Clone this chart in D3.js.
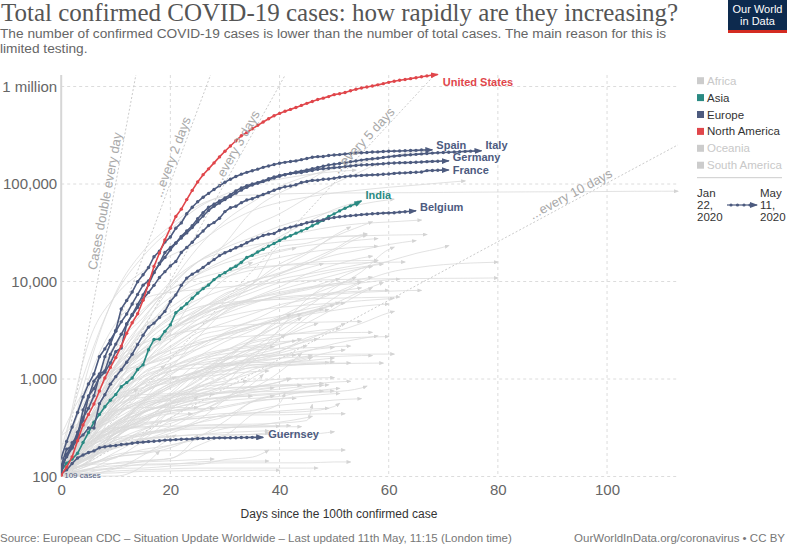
<!DOCTYPE html>
<html><head><meta charset="utf-8">
<script src="https://cdn.jsdelivr.net/npm/d3@7"></script>
<style>
body{margin:0;background:#fff}
svg{display:block;font-family:"Liberation Sans",Arial,sans-serif}
</style>
</head><body>
<svg id="chart" width="787" height="546"></svg>
<script>
// ---------------- DATA ----------------
const xTicks = [0, 20, 40, 60, 80, 100];
const yTicks = [100, 1000, 10000, 100000, 1000000];
const doublingDays = [1, 2, 3, 5, 10];
const doublingLabels = ["Cases double every day", "...every 2 days", "...every 3 days", "...every 5 days", "...every 10 days"];
const regions = ["Africa", "Asia", "Europe", "North America", "Oceania", "South America"];
const activeRegions = ["Asia", "Europe", "North America"];

// daily cumulative confirmed cases, day 0 = first day with >= 100 cases
const usCases = [103,125,159,233,338,433,554,754,1025,1312,1663,2174,2951,3774,4661,6427,9415,14250,19624,26747,35206,46442,55231,69194,85991,104686,124665,143025,164620,
189618,216721,245540,277965,312237,337635,368196,399929,432132,466299,501615,530006,557571,582594,609516,639664,671331,702164,735086,759786,787752,825041,842624,869172,905358,938154,965785,988197,1012582,1039909,
1069424,1103461,1132539,1158040,1180375,1204351,1229331,1257023,1283929,1309550,1329260];
const spainCases = [120,165,222,259,400,500,673,1073,1695,2277,3146,5232,6391,7798,9942,11748,13910,17963,20410,25374,28603,35136,39885,49515,57786,65719,73235,80110,87956,95923,
104118,112065,119199,126168,131646,136675,141942,148220,153222,158273,163027,166831,170099,172541,177633,182816,188068,190839,191726,195944,198674,200210,202990,205905,207634,209465,210773,212917,213435,215216,216582,217466,218011,219329,220325,221447,222857,223578,224350];
const italyCases = [155,229,322,453,655,888,1128,
1694,2036,2502,3089,3858,4636,5883,7375,9172,10149,12462,15113,17660,21157,24747,27980,31506,35713,41035,47021,53578,59138,63927,69176,74386,80589,86498,92472,97689,101739,105792,
110574,115242,119827,124632,128948,132547,135586,139422,143626,147577,152271,156363,159516,162488,165155,168941,172434,175925,178972,181228,183957,187327,189973,192994,195351,197675,199414,201505,203591,205463,
207428,209328,210717,211938,213013,214457,215858,217185,218268,219070];
const germanyCases = [130,159,196,262,482,670,799,1040,1176,1457,1908,2078,3675,4585,5795,7272,9257,12327,15320,19848,22213,24873,29056,32986,37323,43938,50871,57695,62095,66885,71808,
77872,84794,91159,96092,100123,103374,107663,113296,118181,122171,124908,127854,130072,131359,134753,137698,141397,143342,145184,147065,148291,150648,153129,154999,156513,157770,158758,159912,161539,163009,
164077,164967,165664,166152,167007,168162,169430,170588,171324,171879,172576];
const franceCases = [130,191,204,285,377,653,949,1126,1209,1784,2281,2876,3661,4499,5423,6633,7730,9134,10995,12612,14459,16018,19856,22304,25233,29155,32964,37575,40174,44550,52128,
56989,59105,64338,68605,70478,74390,78167,82048,86334,90276,93790,95403,98076,103573,106206,108847,109252,111821,112606,114657,117324,119151,120804,121712,122577,123279,124114,124575,125770,126835,
128442,129581,130185,131287,131863,132967,137150,137779,138421,138854,139063];
const belgiumCases = [109,169,200,239,267,314,314,559,689,886,1058,1243,1486,1795,2257,2815,3401,3743,4269,4937,6235,7284,9134,10836,11899,12775,
13964,15348,16770,18431,19691,20814,22194,23403,24983,26667,28018,29647,30589,31119,33573,34809,36138,37183,38496,39983,40956,41889,42797,44293,45325,46134,46687,47334,47859,48519,
49032,49517,49906,50267,50509,50781,51420,52011,52596,53081];
const indiaCases = [114,137,151,173,223,283,360,433,519,606,694,834,918,1024,1251,1397,
1998,2543,2567,3082,3588,4778,5311,5916,6725,7598,8446,9205,10453,11487,12322,13430,14352,15722,17615,18539,20080,21370,23077,24530,26283,27890,29451,31324,33062,34863,
37257,39699,42505,46437,49400,52987,56351,59695,62808,67161];
const guernseyCases = [107,117,136,155,166,176,183,197,202,206,208,213,215,219,223,225,228,230,233,236,237,239,241,242,243,245,246,247,248,249,249,250,250,251,251,252,252,252];

const highlightNames = ["Guernsey", "India", "Belgium", "France", "Germany", "Italy", "Spain", "United States"];
const highlightRegion = ["Europe", "Asia", "Europe", "Europe", "Europe", "Europe", "Europe", "North America"];
const highlightCases = [guernseyCases, indiaCases, belgiumCases, franceCases, germanyCases, italyCases, spainCases, usCases];

// other countries: [last day, cases every 5 days (day 0, 5, 10, ...), final value on the last day]
const otherCountries = [
[113,[100,1287,7711,20438,37198,59804,74185,77150,78961,80151,80761,81048,81250,81498,81961,82447,82745,83005,83213,83356,83798,84201,84311,84373]],
[74,[139,2336,7161,12729,18407,24811,38309,53183,64586,73303,80868,87026,92584,97424,103135,107603]],
[67,[115,373,1391,3983,9529,22141,41903,65077,93873,120067,143464,165221,190584,215260,223060]],
[55,[114,367,1036,2337,6343,11917,24490,52763,80949,106498,155370,221344]],
[58,[121,621,2201,4256,9056,15927,23430,36599,49492,71886,101147,135106,162699]],
[54,[191,1529,7402,18135,34109,56956,78546,98674,112261,124375,133721,138657]],
[61,[108,424,1331,3409,8527,15756,22148,28379,36829,44919,52865,62046,68848,69981]],
[55,[117,395,635,1414,2954,7519,12491,19250,28699,40459,54817,67307]],
[66,[128,503,1413,3003,6412,11750,16627,21762,27419,32655,36535,39316,40770,42382,42627]],
[67,[114,491,2200,4840,9877,15922,20278,23574,25688,27404,28677,29407,29905,30207,30305]],
[57,[103,274,900,1453,2179,3287,5369,9362,15102,20077,28656,37136,41014]],
[53,[118,367,993,1890,3181,4661,6875,9501,13842,19224,29616,36327]],
[58,[112,642,2362,5170,8251,11730,15472,18091,20863,23392,25045,26715,27581]],
[65,[161,687,1196,1906,3069,4947,7206,10151,11927,15322,18640,21092,23918,26322]],
[58,[129,557,1329,2615,4273,6074,10647,14758,17607,19877,21506,22541,22996]],
[56,[187,495,1063,1865,3157,4601,6383,8418,11940,16117,21501,30334,30941]],
[56,[155,537,1306,2449,4471,6501,8273,10088,12306,15135,20643,28866,30063]],
[56,[111,506,1403,2302,3747,4965,7529,9468,22719,24675,29071,29559,29900]],
[43,[152,351,1066,3281,4779,8022,12208,16705,20168,22052]],
[61,[262,401,470,562,693,949,1604,2512,4103,5448,8525,12564,21331,22520]],
[71,[102,130,178,266,558,879,1189,1623,3252,6588,10141,13624,16169,19410,22460,23336]],
[58,[143,529,1656,3865,6857,9404,11145,13107,14592,15589,16185,16381,16506]],
[57,[113,140,333,611,1264,2659,4933,6781,8756,11929,14730,17417,18198]],
[63,[131,504,2013,4876,8271,10711,12640,13945,14595,15002,15274,15531,15752,15833]],
[80,[105,186,274,502,620,814,1054,1499,2617,4257,6748,9787,12368,13852,14877,15463,15798]],
[80,[104,977,3736,6593,7755,8236,8799,9241,9786,10237,10450,10591,10674,10718,10774,10806,10874]],
[58,[103,355,901,1862,3383,5205,6674,8379,10511,11902,13375,15047,16326]],
[59,[123,260,576,1292,2460,4057,5990,7707,9710,11036,12732,14107,15131]],
[48,[113,475,1096,1668,3102,4662,6592,9009,11411,13691,15232]],
[57,[117,369,790,1414,2092,3293,4839,6575,8211,9771,11587,13645,14265]],
[35,[123,482,1572,3382,5416,8238,11719,15691]],
[57,[140,230,636,1546,3094,4076,5223,6087,7192,8212,9485,10610,11086]],
[62,[264,864,1255,1877,2755,4369,5635,6681,7515,8575,9158,9670,10429,10591]],
[55,[103,303,785,1476,2447,3630,5318,6630,7779,8724,9464,10032]],
[51,[112,392,1109,1828,2620,3614,4680,5926,7288,8480,10347,10634]],
[54,[102,231,539,1161,1579,2709,3233,3977,5379,7006,8959,11063]],
[60,[116,434,1047,2062,3308,4587,5712,6303,6900,7273,7657,7979,8123]],
[66,[113,621,1256,1926,3156,4445,5550,6211,6623,7113,7425,7738,7954,8099,8105]],
[62,[107,249,791,2364,4093,5454,6052,6366,6547,6667,6746,6825,6914,6941]],
[55,[109,313,786,1317,1988,2974,3751,4658,5779,6532,7731,8616]],
[59,[109,196,327,576,865,1450,1939,2673,3490,4534,5895,7981,9746]],
[55,[116,274,1170,1380,1655,2028,2605,3465,4361,5951,7572,10015]],
[57,[112,159,195,255,479,855,1355,1995,2614,3740,5278,7623,8688]],
[61,[129,553,1183,2031,2766,3662,4346,4987,5425,5742,6002,6353,6656,6726]],
[51,[115,275,617,1141,1448,2024,2990,3897,4423,5219,5910,6063]],
[60,[109,319,626,958,1384,2176,2905,3489,4014,4576,5051,5573,5880]],
[52,[128,387,820,1353,1715,2277,2839,3435,4127,4887,5776,6034]],
[50,[139,367,716,1320,1825,2268,2811,3256,4154,4838,5723]],
[48,[100,284,464,727,1091,1676,2406,3138,4205,4834,5207]],
[49,[109,231,505,1056,1712,2472,2926,3481,4052,4728,5153]],
[55,[140,798,1605,2319,2804,3223,3480,3618,3729,3802,3859,3886]],
[51,[103,261,492,744,1190,1579,1984,2443,2775,3035,3263,3284]],
[61,[110,214,332,458,567,688,887,1671,1907,2647,3040,3720,4774,4941]],
[44,[110,273,423,607,906,1176,1703,2469,3563,4687]],
[42,[131,214,288,343,627,981,1532,2558,3912,4641]],
[47,[109,179,277,457,727,1266,1716,2348,2637,3399,3721]],
[52,[122,265,482,770,921,1067,1291,1677,1932,2507,3313,3718]],
[57,[114,322,934,1524,1978,2369,2613,2765,2854,2947,2987,3004,3009]],
[60,[117,387,624,892,1314,1735,2011,2192,2401,2506,2591,2678,2726]],
[58,[110,192,316,547,820,1202,1378,1482,1631,1928,2296,2603,2767]],
[44,[141,204,287,566,641,1042,1550,2074,3091,4263]],
[44,[139,306,685,820,1017,1163,1621,1832,2265,2579]],
[53,[105,382,713,1079,1343,1600,1814,1981,2047,2088,2146,2176]],
[41,[107,157,275,393,564,807,1110,1802,2556,2831]],
[52,[127,242,359,503,635,747,915,1247,1447,1652,1921,1990]],
[61,[103,180,473,802,1135,1486,1675,1720,1771,1790,1797,1799,1802,1802]],
[57,[171,283,404,715,961,1207,1373,1528,1635,1689,1700,1739,1741]],
[43,[139,269,457,726,986,1189,1437,1611,1741,1766]],
[50,[114,219,354,570,854,1117,1231,1386,1465,1539,1642]],
[59,[141,286,442,632,897,1059,1205,1304,1353,1408,1439,1450,1457]],
[49,[131,394,581,880,1026,1149,1370,1399,1406,1444,1479]],
[53,[105,204,314,450,581,742,1049,1325,1396,1413,1455,1457]],
[50,[102,368,708,1039,1312,1409,1445,1470,1485,1489,1497]],
[46,[105,175,222,265,299,377,614,1024,1433,1709,1759]],
[44,[110,222,298,397,472,519,661,804,1178,1830]],
[50,[114,227,455,596,685,822,884,949,994,1022,1032]],
[53,[111,221,347,458,548,651,727,778,836,879,930,947]],
[48,[116,214,356,526,662,767,810,837,873,889,901]],
[49,[104,197,277,383,446,518,634,726,789,842,872]],
[50,[113,267,390,545,601,673,717,738,745,751,754]],
[56,[109,206,368,470,527,609,641,673,704,725,741,809,845]],
[51,[117,231,347,454,558,612,660,693,719,742,794,801]],
[28,[135,355,634,691,705,706,696]],
[43,[103,155,211,300,388,456,511,582,626,635]],
[48,[102,117,159,189,210,254,368,588,705,824,863]],
[39,[110,172,197,234,296,355,411,582,672]],
[51,[112,212,274,345,372,397,417,447,453,465,522,562]],
[52,[108,235,306,355,380,393,420,428,429,436,440,440]],
[49,[107,151,202,241,370,412,443,449,470,490,501]],
[28,[105,173,257,364,469,498,502]],
[46,[107,135,159,171,197,256,311,331,361,402,414]],
[50,[113,153,218,245,258,268,268,270,270,271,288]],
[42,[107,196,318,324,328,331,332,332,332,332]],
[44,[109,201,249,272,307,316,321,322,324,324]],
[38,[102,110,127,143,153,207,259,271,280]],
[38,[111,170,206,242,257,269,282,290,295]],
[40,[114,139,214,283,298,307,318,322,328]],
[52,[115,132,168,181,184,184,185,187,187,187,187,187]],
[53,[101,104,120,134,135,136,138,138,138,138,141,141]],
[47,[103,107,114,117,120,122,122,122,122,122,122]],
[40,[103,107,109,113,114,115,116,116,116]],
[38,[103,120,129,131,133,141,144,144,144]],
[55,[119,175,208,236,277,356,435,476,538,569,608,628]],
[51,[110,217,338,400,473,483,528,596,630,670,707,711]],
[48,[114,222,302,414,497,565,600,632,662,744,751]],
[39,[120,278,529,648,681,701,736,763,815]],
[46,[101,169,245,444,638,847,952,1150,1398,1602,1667]],
[39,[111,144,250,477,688,1163,1537,2042,2146]],
[38,[135,150,298,591,846,1035,1118,1189,1210]],
[43,[104,227,582,812,1302,1678,1939,2118,2298,2486]],
[50,[126,235,423,599,805,1083,1342,1512,1757,1964,2117]],
[47,[122,273,521,926,1197,1436,1592,1766,2060,2422,2589]],
[42,[107,216,298,449,554,665,746,830,931,1002]],
[37,[112,159,225,274,323,446,633,889,1112]],
[34,[126,167,257,385,557,703,832,967]],
[21,[116,286,528,722,997,1054]],
[19,[107,275,442,930,1365]],
[25,[147,284,480,509,509,509]],
[35,[105,171,258,370,490,580,650,668]],
[42,[109,161,235,307,350,459,604,797,937,1024]],
[25,[108,172,276,335,397,661]],
[25,[104,119,138,146,153,267]],
[20,[104,136,155,225,257]],
[18,[100,101,101,129,182]],
[41,[104,129,159,174,208,239,266,431,563,713]],
[46,[108,161,237,263,308,336,342,344,353,375,547]],
[44,[106,145,283,378,510,637,799,823,856,861]],
[14,[100,214,519,790]],
[21,[106,114,122,165,246,267]],
[24,[214,258,315,315,439,439]],
[38,[106,117,121,122,128,132,149,158,186]],
[10,[128,379,612]],
[28,[113,133,136,141,145,149,151]],
[45,[100,239,573,903,1213,1298,1416,1575,1843,2198]]
];

// ---------------- LAYOUT / STYLE ----------------
const regionColor = {"Africa":"#cccccc","Asia":"#2a8a83","Europe":"#4d5b7f","North America":"#e0464b","Oceania":"#cccccc","South America":"#cccccc"};
const labelOffset = {"United States":[5,8],"Spain":[4,-5],"Italy":[4,-6],"Germany":[4,-4],"France":[4,0],"Belgium":[4,-4],"India":[4,-6],"Guernsey":[5,-3]};
const doublingLabelDay = [7, 18.9, 29.4, 51.1, 86.6];

const svg = d3.select("#chart");
const x = d3.scaleLinear().domain([0, 113]).range([61.2, 678]);
const y = d3.scaleLog().domain([100, 1000000]).range([476.5, 86.5]);
const plotTop = 75;
const yTopValue = y.invert(plotTop);

const defs = svg.append("defs");
defs.append("clipPath").attr("id","plotclip").append("rect")
  .attr("x", x(0)).attr("y", 68).attr("width", x(113) - x(0) + 2).attr("height", y(100) - 68 + 2);

function marker(id, color, w, h) {
  defs.append("marker").attr("id", id).attr("markerUnits","userSpaceOnUse")
    .attr("markerWidth", w).attr("markerHeight", h).attr("refX", w - 1).attr("refY", h / 2)
    .attr("orient","auto")
    .append("path").attr("d", `M0,0L${w},${h/2}L0,${h}Z`).attr("fill", color);
}
marker("arr-gray", "#d4d4d4", 5, 4);
Object.keys(regionColor).forEach(r => marker("arr-" + r.replace(/ /g,""), regionColor[r], 8, 6));

// ---- title ----
svg.append("text").attr("x", 1).attr("y", 21)
  .style("font-family", '"Liberation Serif", "Times New Roman", serif').style("font-size", "25px").style("fill", "#555")
  .text("Total confirmed COVID-19 cases: how rapidly are they increasing?");
const sub = svg.append("g").style("font-size", "13.7px").style("fill", "#666");
sub.append("text").attr("x", 0).attr("y", 38).text("The number of confirmed COVID-19 cases is lower than the number of total cases. The main reason for this is");
sub.append("text").attr("x", 0).attr("y", 53).text("limited testing.");

// logo
const logo = svg.append("g");
logo.append("rect").attr("x", 728).attr("y", 0).attr("width", 59).attr("height", 33).attr("fill", "#0d2a4e");
logo.append("rect").attr("x", 728).attr("y", 30).attr("width", 59).attr("height", 3).attr("fill", "#d42b21");
logo.append("text").attr("x", 757.5).attr("y", 12.5).attr("text-anchor","middle").style("font-size","11px").style("fill","#fff").text("Our World");
logo.append("text").attr("x", 757.5).attr("y", 24.5).attr("text-anchor","middle").style("font-size","11px").style("fill","#fff").text("in Data");

// ---- grid ----
const grid = svg.append("g");
grid.selectAll(".hg").data(yTicks).join("line")
  .attr("x1", x(0)).attr("x2", x(113)).attr("y1", d => y(d)).attr("y2", d => y(d))
  .attr("stroke", "#dcdcdc").attr("stroke-dasharray", "3,3");
grid.selectAll(".vg").data(xTicks.filter(d => d > 0)).join("line")
  .attr("x1", d => x(d)).attr("x2", d => x(d)).attr("y1", plotTop).attr("y2", y(100))
  .attr("stroke", "#dcdcdc").attr("stroke-dasharray", "3,3");
svg.append("line").attr("x1", x(0)).attr("x2", x(0)).attr("y1", plotTop).attr("y2", y(100))
  .attr("stroke", "#d6d6d6").attr("stroke-width", 2);

// axes (labels only)
const yAxis = svg.append("g").attr("transform", `translate(${x(0) - 4},0)`)
  .call(d3.axisLeft(y).tickValues(yTicks).tickSize(0).tickPadding(0)
    .tickFormat(d => d === 1000000 ? "1 million" : d3.format(",")(d)));
yAxis.select(".domain").remove();
yAxis.selectAll("text").style("font-size", "15px").style("fill", "#666").style("font-family", '"Liberation Sans",Arial,sans-serif');

const xAxis = svg.append("g").attr("transform", `translate(0,${y(100) + 8})`)
  .call(d3.axisBottom(x).tickValues(xTicks).tickSize(0).tickPadding(0).tickFormat(d3.format("d")));
xAxis.select(".domain").remove();
xAxis.selectAll("text").style("font-size", "15px").style("fill", "#666").style("font-family", '"Liberation Sans",Arial,sans-serif');

svg.append("text").attr("x", 339).attr("y", 518).attr("text-anchor", "middle")
  .style("font-size", "12px").style("fill", "#333").text("Days since the 100th confirmed case");

// ---- doubling lines ----
const plot = svg.append("g").attr("clip-path", "url(#plotclip)");
const dbl = plot.append("g");
doublingDays.forEach((T, i) => {
  const dEnd = Math.min(113, T * Math.log2(yTopValue / 100));
  dbl.append("line").attr("x1", x(0)).attr("y1", y(100)).attr("x2", x(dEnd)).attr("y2", y(100 * Math.pow(2, dEnd / T)))
    .attr("stroke", "#c4c4c4").attr("stroke-width", 0.9).attr("stroke-dasharray", "2,2");
});

// ---- other countries ----
const lineGen = d3.line().x(d => x(d[0])).y(d => y(d[1])).curve(d3.curveMonotoneX);
const grayG = plot.append("g");
otherCountries.forEach(([end, vals]) => {
  const pts = vals.map((v, i) => [i === vals.length - 1 ? end : i * 5, v]);
  grayG.append("path").attr("d", lineGen(pts)).attr("fill", "none")
    .attr("stroke", "#dadada").attr("stroke-width", 0.8).attr("marker-end", "url(#arr-gray)");
});

// doubling labels
doublingDays.forEach((T, i) => {
  const d = doublingLabelDay[i];
  const px = x(d), py = y(100 * Math.pow(2, d / T));
  const ang = Math.atan2(y(100 * Math.pow(2, (d + 1) / T)) - py, x(d + 1) - px) * 180 / Math.PI;
  svg.append("text").attr("transform", `translate(${px},${py}) rotate(${ang})`).attr("dy", -3)
    .style("font-size", "13px").style("fill", "#a8a8a8").text(doublingLabels[i]);
});

// ---- highlighted countries ----
const hl = plot.append("g");
const lin = d3.line().x(d => x(d[0])).y(d => y(d[1]));
highlightNames.forEach((name, k) => {
  const col = regionColor[highlightRegion[k]];
  const pts = highlightCases[k].map((v, i) => [i, v]);
  const g = hl.append("g");
  g.append("path").attr("d", lin(pts)).attr("fill", "none").attr("stroke", col).attr("stroke-width", 1.6)
    .attr("marker-end", `url(#arr-${highlightRegion[k].replace(/ /g,"")})`);
  g.selectAll("circle").data(pts.slice(0, -1)).join("circle")
    .attr("cx", d => x(d[0])).attr("cy", d => y(d[1])).attr("r", 1.7).attr("fill", col);
});
highlightNames.forEach((name, k) => {
  const col = regionColor[highlightRegion[k]];
  const arr = highlightCases[k];
  const lx = x(arr.length - 1), ly = y(arr[arr.length - 1]);
  const off = labelOffset[name];
  svg.append("text").attr("x", lx + off[0]).attr("y", ly + off[1]).attr("dy", "0.35em")
    .style("font-size", "11px").style("font-weight", "bold").style("fill", col).text(name);
});
svg.append("text").attr("x", x(0) + 3).attr("y", y(100) + 1).style("font-size", "8px").style("fill", "#4d5b7f").text(belgiumCases[0] + " cases");

// ---- legend ----
const leg = svg.append("g");
regions.forEach((r, i) => {
  const yy = 80.7 + i * 16.9;
  const on = activeRegions.includes(r);
  leg.append("rect").attr("x", 697).attr("y", yy - 3.5).attr("width", 7).attr("height", 7).attr("fill", regionColor[r]);
  leg.append("text").attr("x", 707).attr("y", yy).attr("dy", "0.35em").style("font-size", "11.5px")
    .style("fill", on ? "#333" : "#c8c8c8").text(r);
});
leg.append("line").attr("x1", 697).attr("x2", 782).attr("y1", 177.7).attr("y2", 177.7).attr("stroke", "#ccc");
const dateStart = ["Jan", "22,", "2020"], dateEnd = ["May", "11,", "2020"];
dateStart.forEach((t, i) => leg.append("text").attr("x", 697).attr("y", 193.3 + i * 11.7).attr("dy", "0.35em").style("font-size", "11.5px").style("fill", "#333").text(t));
dateEnd.forEach((t, i) => leg.append("text").attr("x", 760).attr("y", 193.3 + i * 11.7).attr("dy", "0.35em").style("font-size", "11.5px").style("fill", "#333").text(t));
leg.append("line").attr("x1", 727).attr("x2", 757).attr("y1", 205).attr("y2", 205).attr("stroke", "#4d5b7f").attr("stroke-width", 1.2)
  .attr("marker-end", "url(#arr-Europe)");
[731, 737.5, 744, 750].forEach(cx => leg.append("circle").attr("cx", cx).attr("cy", 205).attr("r", 1.6).attr("fill", "#4d5b7f"));

// ---- footer ----
svg.append("text").attr("x", 0).attr("y", 542).style("font-size", "11.5px").style("fill", "#777")
  .text("Source: European CDC \u2013 Situation Update Worldwide \u2013 Last updated 11th May, 11:15 (London time)");
svg.append("text").attr("x", 785).attr("y", 542).attr("text-anchor", "end").style("font-size", "11.5px").style("fill", "#777")
  .text("OurWorldInData.org/coronavirus \u2022 CC BY");
</script>
</body></html>
